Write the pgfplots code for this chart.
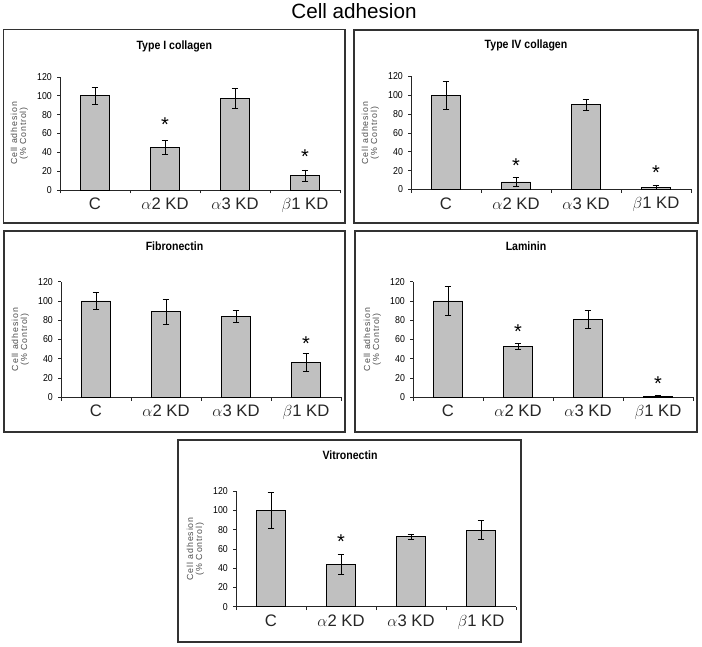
\documentclass[border=0pt]{standalone}
\usepackage{fontspec}
\setmainfont{Liberation Sans}
\newfontfamily\titlefont[FakeStretch=0.88]{Liberation Sans}
\newfontfamily\ylabfont[LetterSpace=10]{Liberation Sans}
\usepackage{pgfplots}
\pgfplotsset{compat=1.18}
\definecolor{barfill}{RGB}{192,192,192}
\definecolor{boxcol}{RGB}{50,50,50}
\newcommand\PX[2]{({#1*0.75pt},{(646-#2)*0.75pt})}
\pgfplotsset{
  panel/.style={
    scale only axis, width=210pt, height=#1,
    anchor=south west,
    xmin=-0.5, xmax=3.5, ymin=0, ymax=120,
    axis lines=left, axis line style={-, black!85, line width=0.7pt},
    ytick={0,20,...,120},
    xtick={0,1,2,3},
    xticklabels={C,{$\alpha$2 KD},{$\alpha$3 KD},{$\beta$1 KD}},
    minor xtick={-0.5,0.5,1.5,2.5,3.5},
    tick align=outside, major tick length=2.25pt, minor tick length=2.5pt,
    major x tick style={draw=none},
    tick style={black!85, line width=0.6pt},
    /pgf/number format/assume math mode=true,
    yticklabel style={font=\titlefont\fontsize{7.5}{7.5}\selectfont, xshift=-0.3pt},
    xticklabel style={font=\fontsize{12.5}{12.5}\selectfont, text=black!85, inner sep=0pt, yshift=-3.5pt},
    ylabel={Cell adhesion\\(\% Control)},
    ylabel style={align=center, font=\ylabfont\fontsize{6.6}{6.8}\selectfont, text=black!70},
    ybar, bar width=21.75pt,
    clip=false,
  },
  barplot/.style={fill=barfill, draw=black, line width=0.6pt,
    error bars/.cd, y dir=both, y explicit,
    error bar style={black, line width=0.6pt},
    error mark options={rotate=90, mark size=2.6pt, black, line width=0.6pt}},
}
\tikzset{
  paneltitle/.style={anchor=base, font=\titlefont\bfseries\fontsize{9}{9}\selectfont},
  star/.style={anchor=north, inner sep=0pt, font=\fontsize{15}{15}\selectfont},
}
\begin{document}
\begin{tikzpicture}
\path[use as bounding box] (0,0) rectangle (526.5pt,484.5pt);
\node[anchor=base, font=\fontsize{15.5}{15.5}\selectfont] at \PX{354}{18.3} {Cell adhesion};

% boxes
\draw[boxcol, line width=0.8pt] \PX{3.5}{29.5} rectangle \PX{345}{223};
\draw[boxcol, line width=0.8pt] \PX{354}{30} rectangle \PX{698}{223};
\draw[boxcol, line width=0.8pt] \PX{4}{231} rectangle \PX{345}{432};
\draw[boxcol, line width=0.8pt] \PX{355}{231} rectangle \PX{697}{432};
\draw[boxcol, line width=0.8pt] \PX{178}{440} rectangle \PX{521}{642};

% titles
\node[paneltitle] at \PX{174.3}{49.3} {Type I collagen};
\node[paneltitle] at \PX{526}{49} {Type IV collagen};
\node[paneltitle] at \PX{174.5}{251} {Fibronectin};
\node[paneltitle] at \PX{526}{251} {Laminin};
\node[paneltitle] at \PX{350}{460} {Vitronectin};

% Type I collagen
\begin{axis}[panel=84.75pt, at={({60*0.75pt},{(646-190)*0.75pt})}]
\addplot[barplot] coordinates {(0,100) +- (0,9) (1,45) +- (0,7.5) (2,97) +- (0,10.5) (3,15) +- (0,6.3)};
\node[star] at (axis cs:1,77.5) {*};
\node[star] at (axis cs:3,42.8) {*};
\end{axis}

% Type IV collagen
\begin{axis}[panel=84.75pt, at={({411*0.75pt},{(646-189.5)*0.75pt})}]
\addplot[barplot] coordinates {(0,100) +- (0,15) (1,8) +- (0,4.5) (2,90) +- (0,6) (3,2) +- (0,2)};
\node[star] at (axis cs:1,33.3) {*};
\node[star] at (axis cs:3,25.6) {*};
\end{axis}

% Fibronectin
\begin{axis}[panel=86.7pt, at={({61*0.75pt},{(646-397.3)*0.75pt})}]
\addplot[barplot] coordinates {(0,100) +- (0,9) (1,89) +- (0,13) (2,84) +- (0,6.5) (3,36) +- (0,9.5)};
\node[star] at (axis cs:3,63.6) {*};
\end{axis}

% Laminin
\begin{axis}[panel=86.7pt, at={({413*0.75pt},{(646-397.3)*0.75pt})}]
\addplot[barplot] coordinates {(0,100) +- (0,15.5) (1,53) +- (0,3) (2,81) +- (0,9.5) (3,1) +- (0,0.8)};
\node[star] at (axis cs:1,75.4) {*};
\node[star] at (axis cs:3,22.1) {*};
\end{axis}

% Vitronectin
\begin{axis}[panel=86.7pt, at={({236*0.75pt},{(646-606.7)*0.75pt})}]
\addplot[barplot] coordinates {(0,100) +- (0,19) (1,44) +- (0,10) (2,72.5) +- (0,3) (3,79.5) +- (0,10)};
\node[star] at (axis cs:1,74.7) {*};
\end{axis}
\end{tikzpicture}
\end{document}
